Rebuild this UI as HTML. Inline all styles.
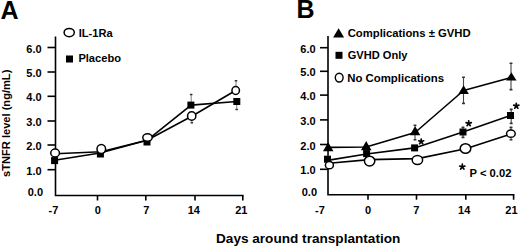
<!DOCTYPE html>
<html><head><meta charset="utf-8"><style>
html,body{margin:0;padding:0;background:#fff;}
svg{display:block;}
text{font-family:"Liberation Sans",sans-serif;font-weight:bold;fill:#000;}
.t{font-size:11px;}
.m{font-size:11.1px;}
.p{font-size:11.2px;}
.big{font-size:25px;}
.xl{font-size:13.6px;}
</style></head><body>
<svg width="520" height="248" viewBox="0 0 520 248">
<rect width="520" height="248" fill="#fff"/>
<text x="0.6" y="18.7" class="big">A</text>
<text x="296.6" y="18.4" class="big">B</text>
<path d="M55.5 36.5 V195.5 H243.6" fill="none" stroke="#000" stroke-width="1.6"/>
<path d="M47.5 169.7 H55.5" stroke="#000" stroke-width="1.6"/>
<path d="M47.5 145.0 H55.5" stroke="#000" stroke-width="1.6"/>
<path d="M47.5 121.0 H55.5" stroke="#000" stroke-width="1.6"/>
<path d="M47.5 96.3 H55.5" stroke="#000" stroke-width="1.6"/>
<path d="M47.5 72.0 H55.5" stroke="#000" stroke-width="1.6"/>
<path d="M47.5 47.5 H55.5" stroke="#000" stroke-width="1.6"/>
<path d="M97.5 195.5 V200.5" stroke="#000" stroke-width="1.6"/>
<path d="M145.8 195.5 V200.5" stroke="#000" stroke-width="1.6"/>
<path d="M195.0 195.5 V200.5" stroke="#000" stroke-width="1.6"/>
<path d="M242.8 195.5 V200.5" stroke="#000" stroke-width="1.6"/>
<text x="43.0" y="196.1" text-anchor="end" class="t">0.0</text>
<text x="41.6" y="174.7" text-anchor="end" class="t">1.0</text>
<text x="41.6" y="150.0" text-anchor="end" class="t">2.0</text>
<text x="41.6" y="126.0" text-anchor="end" class="t">3.0</text>
<text x="41.6" y="101.3" text-anchor="end" class="t">4.0</text>
<text x="41.6" y="77.0" text-anchor="end" class="t">5.0</text>
<text x="41.6" y="52.5" text-anchor="end" class="t">6.0</text>
<text x="53.5" y="213.7" text-anchor="middle" class="t">-7</text>
<text x="97.8" y="213.7" text-anchor="middle" class="t">0</text>
<text x="146.3" y="213.7" text-anchor="middle" class="t">7</text>
<text x="193.8" y="213.7" text-anchor="middle" class="t">14</text>
<text x="241.3" y="213.7" text-anchor="middle" class="t">21</text>
<path d="M328 36 V194.7 H514.4" fill="none" stroke="#000" stroke-width="1.6"/>
<path d="M320 169.3 H328" stroke="#000" stroke-width="1.6"/>
<path d="M320 144.5 H328" stroke="#000" stroke-width="1.6"/>
<path d="M320 119.9 H328" stroke="#000" stroke-width="1.6"/>
<path d="M320 95.1 H328" stroke="#000" stroke-width="1.6"/>
<path d="M320 71.3 H328" stroke="#000" stroke-width="1.6"/>
<path d="M320 47.7 H328" stroke="#000" stroke-width="1.6"/>
<path d="M368.0 194.7 V199.7" stroke="#000" stroke-width="1.6"/>
<path d="M416.5 194.7 V199.7" stroke="#000" stroke-width="1.6"/>
<path d="M465.8 194.7 V199.7" stroke="#000" stroke-width="1.6"/>
<path d="M513.6 194.7 V199.7" stroke="#000" stroke-width="1.6"/>
<text x="317.0" y="196.1" text-anchor="end" class="t">0.0</text>
<text x="315.6" y="174.3" text-anchor="end" class="t">1.0</text>
<text x="315.6" y="149.5" text-anchor="end" class="t">2.0</text>
<text x="315.6" y="124.9" text-anchor="end" class="t">3.0</text>
<text x="315.6" y="100.1" text-anchor="end" class="t">4.0</text>
<text x="315.6" y="76.3" text-anchor="end" class="t">5.0</text>
<text x="315.6" y="52.7" text-anchor="end" class="t">6.0</text>
<text x="320.0" y="213.7" text-anchor="middle" class="t">-7</text>
<text x="368.1" y="213.7" text-anchor="middle" class="t">0</text>
<text x="416.3" y="213.7" text-anchor="middle" class="t">7</text>
<text x="464.2" y="213.7" text-anchor="middle" class="t">14</text>
<text x="511.4" y="213.7" text-anchor="middle" class="t">21</text>
<text transform="translate(10,123.3) rotate(-90)" text-anchor="middle" class="m">sTNFR level (ng/mL)</text>
<text x="216" y="243.4" class="xl">Days around transplantation</text>
<ellipse cx="69.2" cy="32.6" rx="5.1" ry="4.1" fill="#fff" stroke="#000" stroke-width="1.5"/>
<text x="78.7" y="36.6" class="m">IL-1Ra</text>
<rect x="66.00" y="55.50" width="7" height="7" fill="#000"/>
<text x="78.4" y="62.0" class="m">Placebo</text>
<path d="M191.2 102 V94.5" stroke="#888" stroke-width="1.1" fill="none"/><rect x="189.90" y="93.70" width="2.6" height="1.6" rx="0.5" fill="#333"/>
<path d="M191.8 118 V122.8" stroke="#888" stroke-width="1.1" fill="none"/><rect x="190.50" y="122.00" width="2.6" height="1.6" rx="0.5" fill="#333"/>
<path d="M236 86 V80.8" stroke="#888" stroke-width="1.1" fill="none"/><rect x="234.70" y="80.00" width="2.6" height="1.6" rx="0.5" fill="#333"/>
<path d="M236.7 104 V109.5" stroke="#888" stroke-width="1.1" fill="none"/><rect x="235.40" y="108.70" width="2.6" height="1.6" rx="0.5" fill="#333"/>
<polyline points="54.6,160.3 100,153 147,140.3 191.1,105.1 236.7,101.5" fill="none" stroke="#000" stroke-width="1.6" stroke-linejoin="round"/>
<polyline points="55.3,153.8 101,151.7 147,140.3 191.8,116.3 236,90.3" fill="none" stroke="#000" stroke-width="1.6" stroke-linejoin="round"/>
<rect x="51.10" y="157.10" width="7" height="7" fill="#000"/>
<rect x="96.90" y="150.50" width="7" height="7" fill="#000"/>
<rect x="143.50" y="138.50" width="7" height="7" fill="#000"/>
<rect x="187.40" y="101.60" width="7" height="7" fill="#000"/>
<rect x="233.30" y="98.00" width="7" height="7" fill="#000"/>
<ellipse cx="55.1" cy="153.0" rx="4.35" ry="3.95" fill="#fff" stroke="#000" stroke-width="1.5"/>
<ellipse cx="101.3" cy="149.0" rx="4.3" ry="4.4" fill="#fff" stroke="#000" stroke-width="1.5"/>
<ellipse cx="147.5" cy="137.5" rx="4.7" ry="3.75" fill="#fff" stroke="#000" stroke-width="1.5"/>
<ellipse cx="191.7" cy="116.0" rx="4.15" ry="4.3" fill="#fff" stroke="#000" stroke-width="1.5"/>
<ellipse cx="235.7" cy="90.5" rx="3.75" ry="3.95" fill="#fff" stroke="#000" stroke-width="1.5"/>
<path d="M338.6 28.2 L344.10 37.5 L333.10 37.5 Z" fill="#000"/>
<text x="347.7" y="36.8" class="m" style="font-size:11.3px">Complications ± GVHD</text>
<rect x="335.50" y="51.80" width="7" height="7" fill="#000"/>
<text x="347.7" y="58.9" class="m">GVHD Only</text>
<ellipse cx="339.2" cy="77.6" rx="3.9" ry="4.4" fill="#fff" stroke="#000" stroke-width="1.4"/>
<text x="347.2" y="81.8" class="m" style="font-size:11.4px">No Complications</text>
<path d="M415 135 V139.8" stroke="#444" stroke-width="1.1" fill="none"/><rect x="413.50" y="139.00" width="3" height="1.6" rx="0.5" fill="#333"/>
<path d="M415 126.5 V125.3" stroke="#444" stroke-width="1.1" fill="none"/><rect x="413.50" y="124.50" width="3" height="1.6" rx="0.5" fill="#333"/>
<path d="M463.5 86 V77.3" stroke="#444" stroke-width="1.1" fill="none"/><rect x="462.00" y="76.50" width="3" height="1.6" rx="0.5" fill="#333"/>
<path d="M463.5 93 V103.4" stroke="#444" stroke-width="1.1" fill="none"/><rect x="462.00" y="102.60" width="3" height="1.6" rx="0.5" fill="#333"/>
<path d="M511 73 V63.3" stroke="#444" stroke-width="1.1" fill="none"/><rect x="509.50" y="62.50" width="3" height="1.6" rx="0.5" fill="#333"/>
<path d="M511 80 V89.6" stroke="#444" stroke-width="1.1" fill="none"/><rect x="509.50" y="88.80" width="3" height="1.6" rx="0.5" fill="#333"/>
<path d="M463 129 V127.2" stroke="#444" stroke-width="1.1" fill="none"/><rect x="461.50" y="126.40" width="3" height="1.6" rx="0.5" fill="#333"/>
<path d="M463 135 V137.4" stroke="#444" stroke-width="1.1" fill="none"/><rect x="461.50" y="136.60" width="3" height="1.6" rx="0.5" fill="#333"/>
<path d="M511.2 112 V109.4" stroke="#444" stroke-width="1.1" fill="none"/><rect x="509.70" y="108.60" width="3" height="1.6" rx="0.5" fill="#333"/>
<path d="M511.2 119 V123.4" stroke="#444" stroke-width="1.1" fill="none"/><rect x="509.70" y="122.60" width="3" height="1.6" rx="0.5" fill="#333"/>
<path d="M511 130 V127.4" stroke="#444" stroke-width="1.1" fill="none"/><rect x="509.50" y="126.60" width="3" height="1.6" rx="0.5" fill="#333"/>
<path d="M511 138 V139.8" stroke="#444" stroke-width="1.1" fill="none"/><rect x="509.50" y="139.00" width="3" height="1.6" rx="0.5" fill="#333"/>
<path d="M327.6 156 V151.5" stroke="#444" stroke-width="1.1"/>
<polyline points="328.2,147.4 366.2,147.0 415.1,132.5 463.6,90.5 511.3,77.5" fill="none" stroke="#000" stroke-width="1.6" stroke-linejoin="round"/>
<polyline points="327.5,160.4 366.6,154.0 414.6,147.9 463,132 510.5,115.5" fill="none" stroke="#000" stroke-width="1.6" stroke-linejoin="round"/>
<polyline points="329,163.2 369.3,159.6 417.5,158.6 465.7,148.8 511,134" fill="none" stroke="#000" stroke-width="1.6" stroke-linejoin="round"/>
<path d="M328.2 142.3 L333.45 151.3 L322.95 151.3 Z" fill="#000"/>
<path d="M366.2 141.1 L371.45 150.3 L360.95 150.3 Z" fill="#000"/>
<path d="M415.1 126.1 L420.35 135.2 L409.85 135.2 Z" fill="#000"/>
<path d="M463.6 85.3 L468.85 93.9 L458.35 93.9 Z" fill="#000"/>
<path d="M511.3 72.2 L516.55 80.5 L506.05 80.5 Z" fill="#000"/>
<rect x="324.00" y="155.70" width="7" height="7" fill="#000"/>
<rect x="363.10" y="150.10" width="7" height="7" fill="#000"/>
<rect x="411.10" y="144.40" width="7" height="7" fill="#000"/>
<rect x="459.50" y="128.50" width="7" height="7" fill="#000"/>
<rect x="507.00" y="112.00" width="7" height="7" fill="#000"/>
<ellipse cx="329.4" cy="165.2" rx="4.0" ry="3.6" fill="#fff" stroke="#000" stroke-width="1.5"/>
<ellipse cx="369.6" cy="161.1" rx="5.2" ry="4.9" fill="#fff" stroke="#000" stroke-width="1.5"/>
<ellipse cx="417.4" cy="159.9" rx="5.2" ry="4.5" fill="#fff" stroke="#000" stroke-width="1.5"/>
<ellipse cx="465.5" cy="148.5" rx="5.3" ry="4.7" fill="#fff" stroke="#000" stroke-width="1.5"/>
<ellipse cx="510.9" cy="133.7" rx="4.3" ry="3.6" fill="#fff" stroke="#000" stroke-width="1.5"/>
<path d="M421.20 141.60 L421.20 139.00 M421.20 141.60 L423.67 140.80 M421.20 141.60 L422.73 143.70 M421.20 141.60 L419.67 143.70 M421.20 141.60 L418.73 140.80 " stroke="#000" stroke-width="1.7" stroke-linecap="round" fill="none"/>
<path d="M468.70 123.50 L468.70 120.80 M468.70 123.50 L471.27 122.67 M468.70 123.50 L470.29 125.68 M468.70 123.50 L467.11 125.68 M468.70 123.50 L466.13 122.67 " stroke="#000" stroke-width="1.7" stroke-linecap="round" fill="none"/>
<path d="M516.30 106.00 L516.30 103.30 M516.30 106.00 L518.87 105.17 M516.30 106.00 L517.89 108.18 M516.30 106.00 L514.71 108.18 M516.30 106.00 L513.73 105.17 " stroke="#000" stroke-width="1.7" stroke-linecap="round" fill="none"/>
<path d="M462.30 166.90 L462.30 164.15 M462.30 166.90 L464.92 166.05 M462.30 166.90 L463.92 169.12 M462.30 166.90 L460.68 169.12 M462.30 166.90 L459.68 166.05 " stroke="#000" stroke-width="1.7" stroke-linecap="round" fill="none"/>
<text x="469.6" y="176.8" class="p">P &lt; 0.02</text>
</svg>
</body></html>
